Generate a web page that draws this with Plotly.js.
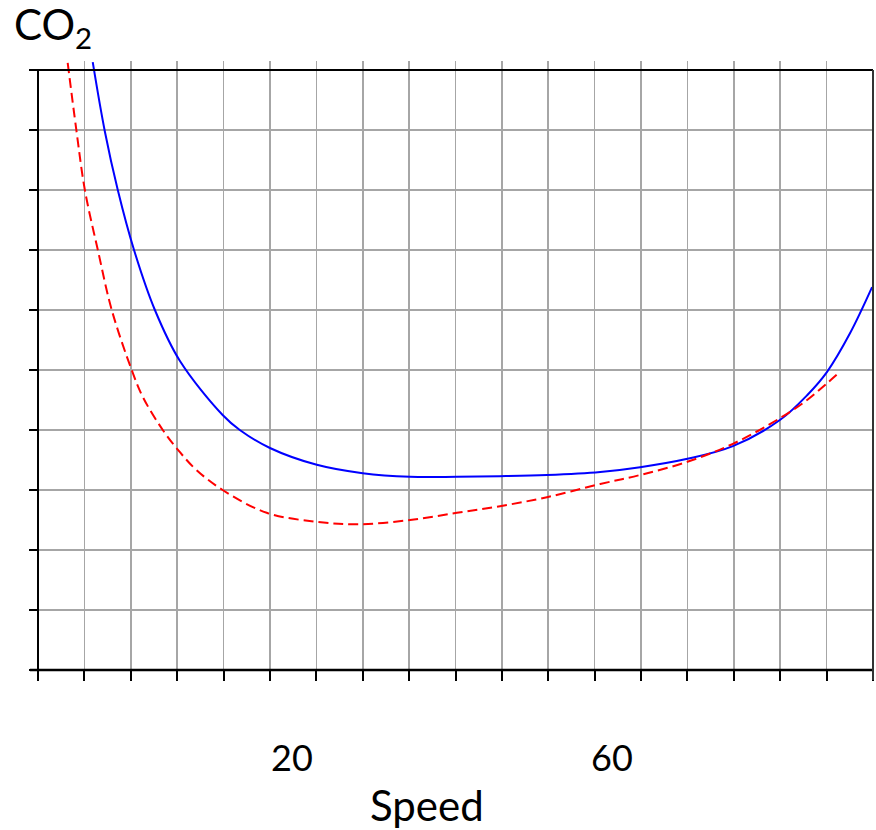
<!DOCTYPE html>
<html>
<head>
<meta charset="utf-8">
<script src="https://cdn.plot.ly/plotly-3.0.1.min.js"></script>
<style>html,body{margin:0;padding:0;background:#fff;}#chart{width:876px;height:830px;}</style>
</head>
<body>
<div id="chart"></div>
<script>
// x in grid units (0..18), y in grid units (0..10)
const blueX = [1.18, 1.44, 1.72, 2.07, 2.52, 3.06, 3.98, 4.35, 5.0, 6.01, 7.0, 8.02, 9.03, 9.95, 10.97, 12.12, 12.98, 14.0, 14.98, 16.0, 16.58, 17.01, 17.51, 17.98];
const blueY = [10.13, 8.98, 8.0, 7.0, 6.0, 5.15, 4.25, 4.0, 3.7, 3.42, 3.28, 3.22, 3.22, 3.23, 3.25, 3.3, 3.38, 3.52, 3.73, 4.17, 4.58, 4.97, 5.62, 6.38];
const redX = [0.64, 0.83, 1.01, 1.29, 1.59, 2.02, 2.26, 2.69, 3.06, 3.42, 3.98, 4.93, 6.01, 6.94, 8.02, 9.03, 9.96, 10.97, 12.12, 12.98, 14.0, 14.98, 16.0, 16.58, 17.01, 17.29];
const redY = [10.12, 8.98, 8.0, 7.0, 6.0, 5.0, 4.55, 4.0, 3.63, 3.33, 3.0, 2.62, 2.47, 2.43, 2.5, 2.62, 2.73, 2.88, 3.1, 3.25, 3.47, 3.77, 4.2, 4.5, 4.78, 4.97];
const xGrid = [0,1,2,3,4,5,6,7,8,9,10,11,12,13,14,15,16,17,18];
const yGrid = [0,1,2,3,4,5,6,7,8,9,10];
const xLabelText = ["20", "60"];
const xLabelPos = [5.47, 12.37];

const traces = [
  {x: blueX, y: blueY, mode: 'lines', line: {color: '#0000ff', width: 2, shape: 'spline', smoothing: 1}, hoverinfo: 'skip'},
  {x: redX, y: redY, mode: 'lines', line: {color: '#ff0000', width: 2, dash: '10px,5px', shape: 'spline', smoothing: 1}, hoverinfo: 'skip'}
];

const H = 609, W = 835;
function py(p){ return (670 - p) / H; }
function px(p){ return (p - 38) / W; }

const annotations = [
  {text: 'CO<sub>2</sub>', xref: 'paper', yref: 'paper', x: px(12), y: py(27), xanchor: 'left', yanchor: 'middle', showarrow: false, font: {family: 'Lato', size: 42, color: '#000'}},
  {text: 'Speed', xref: 'x', yref: 'paper', x: 8.38, y: py(805), xanchor: 'center', yanchor: 'middle', showarrow: false, font: {family: 'Lato', size: 42, color: '#000'}}
];
xLabelText.forEach((t, i) => annotations.push({text: t, xref: 'x', yref: 'paper', x: xLabelPos[i], y: py(757), xanchor: 'center', yanchor: 'middle', showarrow: false, font: {family: 'Lato', size: 36, color: '#000'}}));

const shapes = [
  {type: 'line', xref: 'paper', yref: 'paper', x0: px(30), x1: 1, y0: py(70), y1: py(70), line: {color: '#000', width: 2}},
  {type: 'line', xref: 'paper', yref: 'paper', x0: px(30), x1: 1, y0: 0, y1: 0, line: {color: '#000', width: 2.5}},
  {type: 'line', xref: 'paper', yref: 'paper', x0: 0, x1: 0, y0: py(680), y1: py(70), line: {color: '#000', width: 2}},
  {type: 'line', xref: 'paper', yref: 'paper', x0: 1, x1: 1, y0: py(680), y1: py(70), line: {color: '#333', width: 2}}
];

const layout = {
  width: 876, height: 830,
  margin: {l: 38, r: 3, t: 61, b: 160},
  paper_bgcolor: '#fff', plot_bgcolor: '#fff',
  showlegend: false,
  xaxis: {range: [0, 18], tickvals: xGrid, showticklabels: false, ticks: 'outside', ticklen: 10, tickwidth: 2, tickcolor: '#000', showgrid: true, gridcolor: '#a6a6a6', gridwidth: 1.6, zeroline: false, showline: false, fixedrange: true},
  yaxis: {range: [0, 10.15], tickvals: yGrid, showticklabels: false, ticks: 'outside', ticklen: 8, tickwidth: 2, tickcolor: '#000', showgrid: true, gridcolor: '#a6a6a6', gridwidth: 1.6, zeroline: false, showline: false, fixedrange: true},
  annotations: annotations,
  shapes: shapes
};
Plotly.newPlot('chart', traces, layout, {displayModeBar: false, staticPlot: true});
</script>
</body>
</html>
